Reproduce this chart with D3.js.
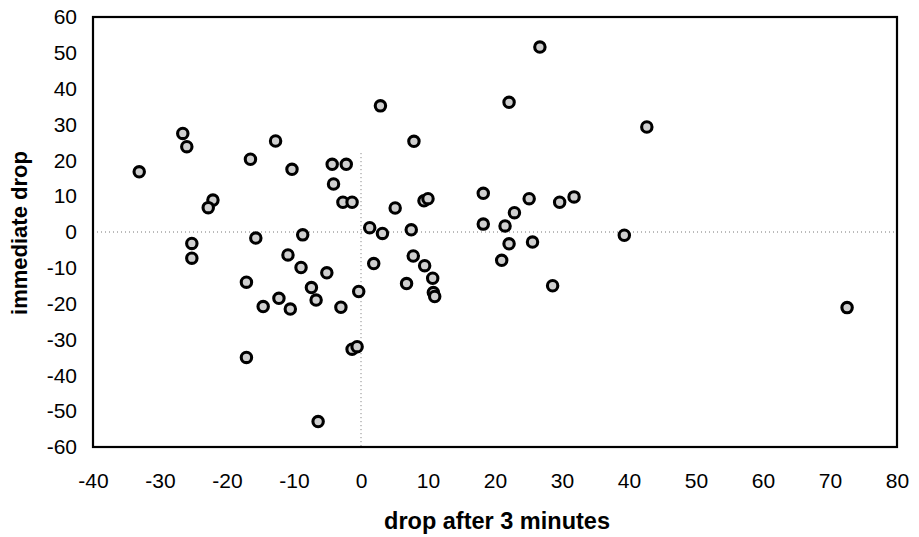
<!DOCTYPE html>
<html>
<head>
<meta charset="utf-8">
<script src="https://cdn.jsdelivr.net/npm/d3@7"></script>
<style>
  html, body { margin: 0; padding: 0; background: #fff; }
  svg { display: block; }
  text { font-family: Arial, "Liberation Sans", sans-serif; fill: #000; }
</style>
</head>
<body>
<svg id="chart" width="919" height="537"></svg>
<script>
// drop after 3 minutes (x)
const dropAfter3 = [
  -33.1, -26.6, -26.0, -16.5, -12.75, -10.3, -22.1, -22.8, -25.25, -15.7,
  -8.7, 2.9, 7.9, -4.3, -2.2, -4.1, -2.7, -1.33, 5.1, 9.4,
  10.0, 1.3, 3.2, 7.5, 18.25, 18.25, 22.1, 26.7, 22.9, 25.1,
  21.5, 22.1, 25.6, 29.65, 31.8, 42.66, 39.3, -25.25, -17.1, -17.1,
  -14.6, -12.25, -10.55, -10.9, -8.95, -7.4, -6.7, -6.4, -5.1, -3.0,
  -0.34, 1.9, -1.33, -0.58, 7.8, 9.5, 10.7, 10.8, 11.0, 6.8,
  21.0, 28.6, 72.55
];
// immediate drop (y)
const immediateDrop = [
  16.8, 27.5, 23.8, 20.3, 25.4, 17.5, 8.9, 6.8, -3.2, -1.7,
  -0.8, 35.2, 25.3, 18.9, 18.9, 13.4, 8.3, 8.3, 6.7, 8.7,
  9.3, 1.2, -0.4, 0.6, 10.8, 2.2, 36.2, 51.6, 5.4, 9.3,
  1.7, -3.3, -2.8, 8.3, 9.8, 29.3, -0.9, -7.3, -14.0, -35.0,
  -20.8, -18.5, -21.5, -6.4, -9.9, -15.5, -19.0, -52.9, -11.4, -21.0,
  -16.6, -8.8, -32.7, -32.0, -6.7, -9.4, -12.9, -16.9, -18.0, -14.4,
  -7.9, -15.0, -21.1
];
const xTicks = [-40, -30, -20, -10, 0, 10, 20, 30, 40, 50, 60, 70, 80];
const yTicks = [-60, -50, -40, -30, -20, -10, 0, 10, 20, 30, 40, 50, 60];
const xTitle = "drop after 3 minutes";
const yTitle = "immediate drop";

const svg = d3.select("#chart");
const pLeft = 93, pRight = 897, pTop = 17, pBottom = 447;

const x = d3.scaleLinear().domain([-40, 80]).range([pLeft, pRight]);
const y = d3.scaleLinear().domain([-60, 60]).range([pBottom, pTop]);

// zero reference lines (dotted)
svg.append("line")
  .attr("x1", x(-40)).attr("x2", x(80))
  .attr("y1", y(0)).attr("y2", y(0))
  .attr("stroke", "#777").attr("stroke-width", 1)
  .attr("stroke-dasharray", "1,3");
svg.append("line")
  .attr("x1", x(0)).attr("x2", x(0))
  .attr("y1", y(22)).attr("y2", y(-60))
  .attr("stroke", "#777").attr("stroke-width", 1)
  .attr("stroke-dasharray", "1,3");

// frame
svg.append("rect")
  .attr("x", pLeft).attr("y", pTop)
  .attr("width", pRight - pLeft).attr("height", pBottom - pTop)
  .attr("fill", "none").attr("stroke", "#000").attr("stroke-width", 2.2);

// axes
const gx = svg.append("g")
  .attr("transform", `translate(0,${pBottom})`)
  .call(d3.axisBottom(x).tickValues(xTicks).tickSize(0).tickPadding(26));
gx.select(".domain").remove();
gx.selectAll("text").attr("font-size", 21).style("font-family", "Arial, 'Liberation Sans', sans-serif");

const gy = svg.append("g")
  .attr("transform", `translate(${pLeft},0)`)
  .call(d3.axisLeft(y).tickValues(yTicks).tickSize(0).tickPadding(16));
gy.select(".domain").remove();
gy.selectAll("text").attr("font-size", 21).style("font-family", "Arial, 'Liberation Sans', sans-serif");

// use hyphen-minus like the original
svg.selectAll(".tick text").text(d => String(d));

// points
const pts = dropAfter3.map((v, i) => ({ x: v, y: immediateDrop[i] }));
svg.append("g").selectAll("circle")
  .data(pts).join("circle")
  .attr("cx", d => x(d.x)).attr("cy", d => y(d.y))
  .attr("r", 5.2)
  .attr("fill", "#cfcfcf")
  .attr("stroke", "#000").attr("stroke-width", 3.1);

// titles
svg.append("text")
  .attr("x", 497).attr("y", 529)
  .attr("text-anchor", "middle")
  .attr("font-size", 23.5).attr("font-weight", "bold")
  .text(xTitle);

svg.append("text")
  .attr("transform", "translate(27,233) rotate(-90)")
  .attr("text-anchor", "middle")
  .attr("font-size", 22).attr("font-weight", "bold")
  .text(yTitle);
</script>
</body>
</html>
